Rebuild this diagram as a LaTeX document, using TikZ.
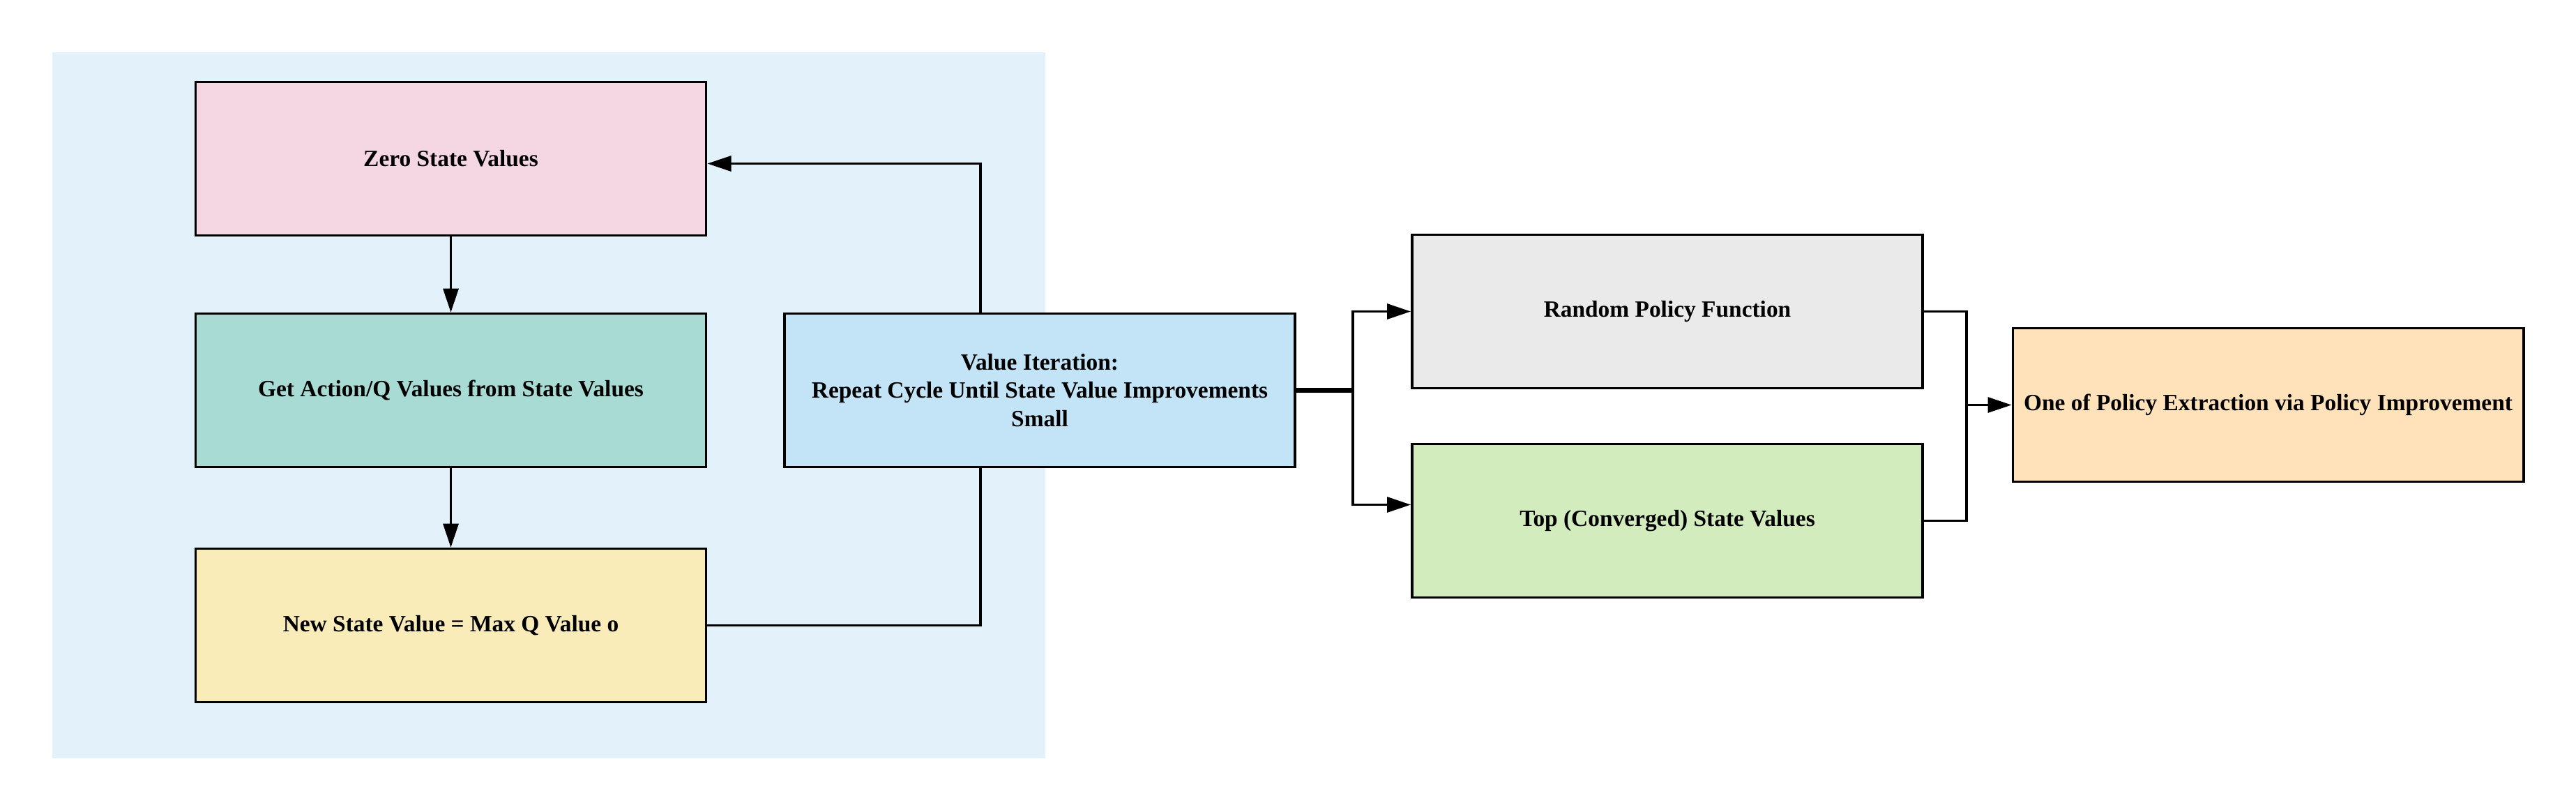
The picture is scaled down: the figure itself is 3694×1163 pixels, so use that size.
\documentclass[tikz,border=0pt]{standalone}
\usepackage{fontspec}
\setmainfont{Liberation Serif}
\usetikzlibrary{arrows.meta,positioning}

\definecolor{loopbg}{RGB}{227,241,250}
\definecolor{zerofill}{RGB}{245,215,227}
\definecolor{getqfill}{RGB}{168,219,212}
\definecolor{newvfill}{RGB}{249,236,185}
\definecolor{viterfill}{RGB}{194,228,246}
\definecolor{randfill}{RGB}{234,234,234}
\definecolor{topfill}{RGB}{211,236,189}
\definecolor{extrfill}{RGB}{255,226,186}

\begin{document}
\begin{tikzpicture}[x=0.01cm, y=-0.01cm,
	box/.style={draw, line width=1pt, minimum width=7.32cm, minimum height=2.2cm,
		inner sep=0pt, align=center, font=\bfseries\fontsize{9.5}{11.6}\selectfont},
	link/.style={line width=0.9pt, -{Triangle[length=3.4mm,width=2.2mm]}},
	plain/.style={line width=0.9pt}]
		
		\useasboundingbox (0,0) rectangle (3694,1163);
		
		% fondo del ciclo
		\fill[loopbg] (75,75) rectangle (1499,1087);
		
		% el ciclo
		\node[box, fill=zerofill] (zero) at (646.5,227.5) {Zero State Values};
		\node[box, fill=getqfill] (getq) at (646.5,559.5) {Get Action/Q Values from State Values};
		\node[box, fill=newvfill] (newv) at (646.5,896.5) {New State Value = Max Q Value o};
		\node[box, fill=viterfill] (viter) at (1491,559.5) {Value Iteration:\\Repeat Cycle Until State Value Improvements\\Small};
		
		% la extracción
		\node[box, fill=randfill] (randpol) at (2391,446.5) {Random Policy Function};
		\node[box, fill=topfill] (topval) at (2391,746.5) {Top (Converged) State Values};
		\node[box, fill=extrfill] (extract) at (3252.5,580.5) {One of Policy Extraction via Policy Improvement};
		
		% flechas del ciclo
		\draw[link] (zero) -- (getq);
		\draw[link] (getq) -- (newv);
		\draw[plain] (newv.east) -| ([xshift=-0.85cm]viter.south);
		\draw[link] ([xshift=-0.85cm]viter.north) |- ([yshift=-0.07cm]zero.east);
		
		% flechas de la derecha
		\coordinate (split) at (1940,559.5);
		\coordinate (merge) at (2820,580.5);
		\draw[line width=2pt] (viter.east) -- (split);
		\draw[link] (split) |- (randpol.west);
		\draw[link] (split) |- ([yshift=0.23cm]topval.west);
		\draw[plain] (randpol.east) -| (merge) |- (topval.east);
		\draw[link] (merge) -- (extract.west);
		
\end{tikzpicture}
\end{document}
